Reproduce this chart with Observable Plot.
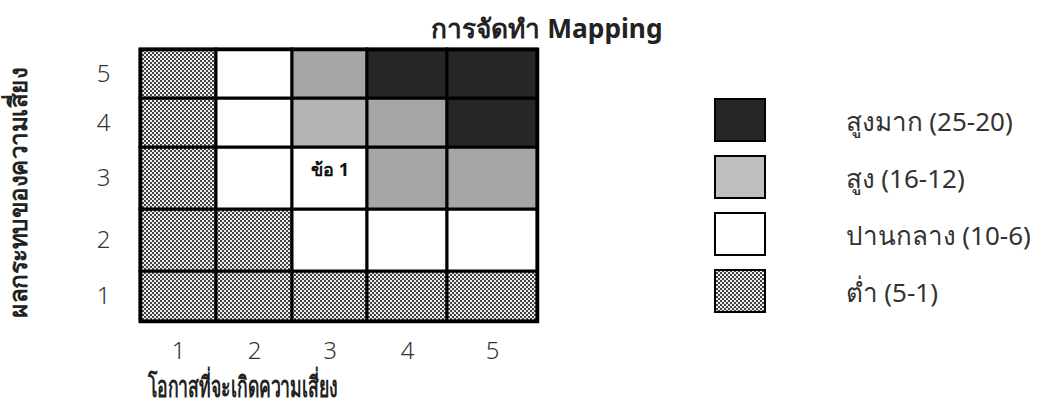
<!DOCTYPE html>
<html><head><meta charset="utf-8">
<script src="https://cdn.jsdelivr.net/npm/d3@7"></script>
<script src="https://cdn.jsdelivr.net/npm/@observablehq/plot@0.6"></script>
<style>
body{margin:0;background:#fff;font-family:"Noto Sans",sans-serif;}
#wrap{position:relative;width:1039px;height:410px;overflow:hidden;}
#main{position:absolute;left:0;top:0;}
#legend{position:absolute;left:690px;top:90px;}
</style></head><body>
<svg width="0" height="0" style="position:absolute"><defs>
<pattern id="checker" width="4" height="4" patternUnits="userSpaceOnUse">
<rect width="4" height="4" fill="#ececec"/><rect width="2" height="2" fill="#444"/><rect x="2" y="2" width="2" height="2" fill="#444"/>
</pattern></defs></svg>
<div id="wrap"><div id="main"></div><div id="legend"></div></div>
<script>
// ---- data ----
const likelihood = [1, 2, 3, 4, 5];
const impactLevels = [1, 2, 3, 4, 5];
const impact1 = ["low", "low", "low", "low", "low"];
const impact2 = ["low", "low", "mid", "mid", "mid"];
const impact3 = ["low", "mid", "mid", "high", "high"];
const impact4 = ["low", "mid", "highLight", "high", "veryhigh"];
const impact5 = ["low", "mid", "high", "veryhigh", "veryhigh"];
const levelKeys = ["veryhigh", "high", "highLight", "mid", "low"];
const levelFills = ["#262626", "#a6a6a6", "#b4b4b4", "#ffffff", "url(#checker)"];
const legendKeys = ["veryhigh", "high", "mid", "low"];
const legendLabels = ["สูงมาก (25-20)", "สูง (16-12)", "ปานกลาง (10-6)", "ต่ำ (5-1)"];
const legendFills = ["#262626", "#bfbfbf", "#ffffff", "url(#checker)"];
const noteLikelihood = [3];
const noteImpact = [3];
const noteTexts = ["ข้อ 1"];
const titleText = "การจัดทำ Mapping";
const xLabel = "โอกาสที่จะเกิดความเสี่ยง";
const yLabel = "ผลกระทบของความเสี่ยง";

// ---- build tables ----
const rows = [impact1, impact2, impact3, impact4, impact5];
const cells = rows.flatMap((row, i) => row.map((level, j) => ({likelihood: likelihood[j], impact: impactLevels[i], level})));
const notes = noteTexts.map((t, i) => ({likelihood: noteLikelihood[i], impact: noteImpact[i], text: t}));
const legend = legendKeys.map((k, i) => ({key: k, label: legendLabels[i]}));

const font = "'Noto Sans', 'DejaVu Sans', sans-serif";

const main = Plot.plot({
  width: 1039, height: 410,
  marginLeft: 140, marginRight: 502, marginTop: 49, marginBottom: 89,
  style: {fontFamily: font, background: "transparent", color: "#333"},
  x: {type: "linear", domain: [0.5, 1.5, 2.5, 3.5, 4.5, 5.5], range: [140, 216, 292, 367, 447, 537], axis: null},
  y: {type: "linear", domain: [0.5, 1.5, 2.5, 3.5, 4.5, 5.5], range: [321, 271, 209, 147, 98, 49], axis: null},
  color: {type: "ordinal", domain: levelKeys, range: levelFills},
  marks: [
    Plot.rect(cells, {x1: d => d.likelihood - 0.5, x2: d => d.likelihood + 0.5, y1: d => d.impact - 0.5, y2: d => d.impact + 0.5, fill: "level", stroke: "black", strokeWidth: 3}),
    Plot.frame({stroke: "black", strokeWidth: 3.5}),
    Plot.text(notes, {x: "likelihood", y: "impact", text: "text", fontSize: 18, fontWeight: "bold", fill: "#111", dy: -8}),
    Plot.axisX(likelihood, {tickSize: 0, tickPadding: 20, fontSize: 24, fontWeight: 300, label: null, fill: "#333", tickFormat: d => String(d)}),
    Plot.axisY(impactLevels, {tickSize: 0, tickPadding: 30, fontSize: 24, fontWeight: 300, label: null, fill: "#333", tickFormat: d => String(d)}),
    Plot.text([titleText], {frameAnchor: "top-left", dx: 406, dy: -12, lineAnchor: "bottom", textAnchor: "middle", fontSize: 26, fontWeight: "bold", fill: "#222"}),
    Plot.text([xLabel], {frameAnchor: "bottom-left", dx: 7, dy: 75, lineAnchor: "bottom", textAnchor: "start", fontSize: 29, fontWeight: "bold", fill: "#222"}),
    Plot.text([yLabel], {frameAnchor: "left", dx: -122, dy: 7, rotate: -90, textAnchor: "middle", fontSize: 25, fontWeight: "bold", fill: "#222"})
  ]
});
document.getElementById("main").appendChild(main);
const fit = (svg, str, len) => d3.select(svg).selectAll("text").filter(function () { return this.textContent === str; })
  .attr("textLength", len).attr("lengthAdjust", "spacingAndGlyphs");
fit(main, xLabel, 190);
fit(main, yLabel, 250);
fit(main, titleText, 232);

const leg = Plot.plot({
  width: 349, height: 230,
  marginLeft: 0, marginRight: 0, marginTop: 0, marginBottom: 0,
  style: {fontFamily: font, background: "transparent", color: "#333"},
  x: {type: "linear", domain: [0, 1], range: [25, 75], axis: null},
  y: {type: "band", domain: legendKeys, range: [8, 223], paddingInner: 0.27, paddingOuter: 0, axis: null},
  color: {type: "ordinal", domain: legendKeys, range: legendFills},
  marks: [
    Plot.barX(legend, {x1: 0, x2: 1, y: "key", fill: "key", stroke: "black", strokeWidth: 2}),
    Plot.text(legend, {x: 1, y: "key", text: "label", dx: 80, dy: 2, textAnchor: "start", fontSize: 26, fill: "#333"})
  ]
});
document.getElementById("legend").appendChild(leg);
</script>
</body></html>
